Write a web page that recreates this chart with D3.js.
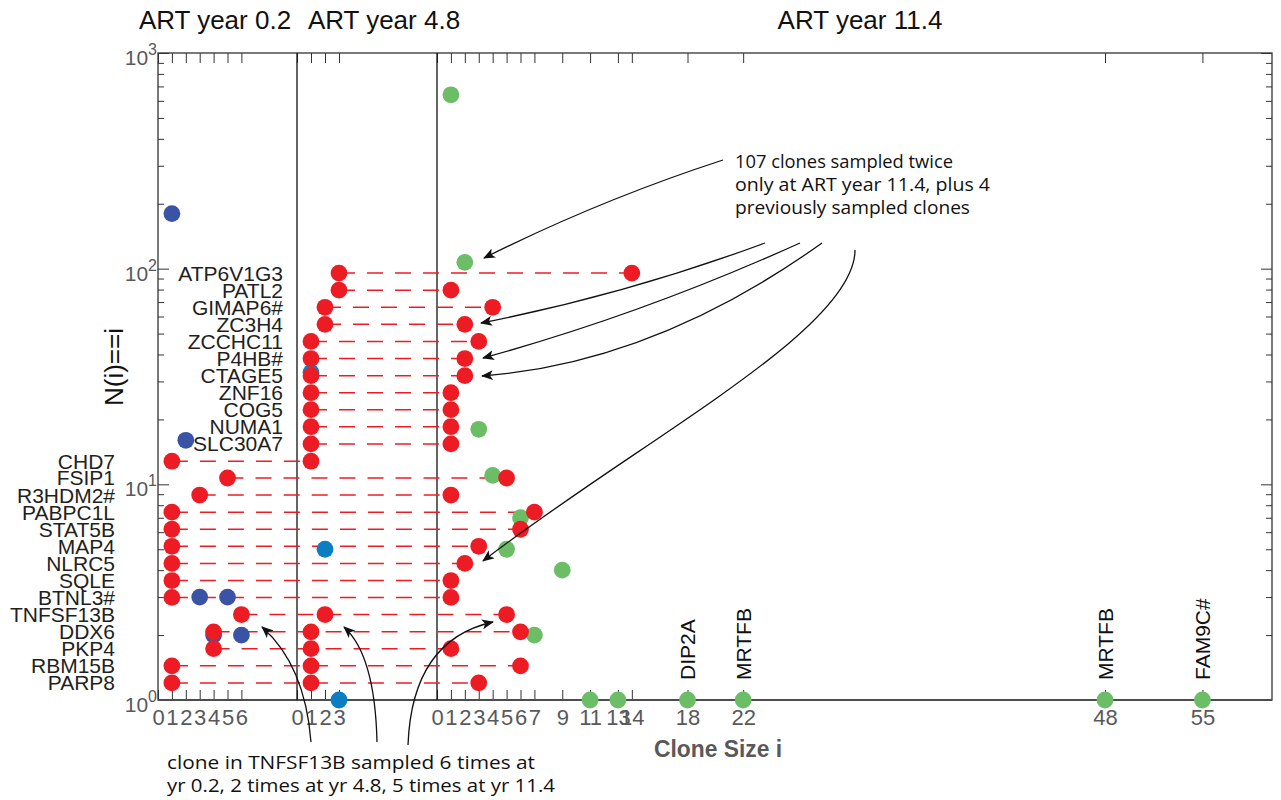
<!DOCTYPE html>
<html>
<head>
<meta charset="utf-8">
<script src="https://cdn.jsdelivr.net/npm/d3@7"></script>
<style>
  html, body { margin: 0; padding: 0; background: #fff; }
  svg { display: block; }
  text { font-family: "Liberation Sans", Arial, Helvetica, sans-serif; }
  .note { font-family: "Open Sans", "Noto Sans", sans-serif; fill: #111; }
</style>
</head>
<body>
<svg id="chart" width="1281" height="800"></svg>
<script>
// ---------------- data ----------------
const panelTitles = ["ART year 0.2", "ART year 4.8", "ART year 11.4"];

// N(i): number of clones of size i at each sampling time
const sizesYr02 = [1, 2, 3, 4, 5, 6];
const countsYr02 = [180, 16, 3, 2, 3, 2];
const sizesYr48 = [1, 2, 3];
const countsYr48 = [33, 5, 1];
const sizesYr114 = [1, 2, 3, 4, 5, 6, 7, 9, 11, 13, 18, 22, 48, 55];
const countsYr114 = [640, 107, 18, 11, 5, 7, 2, 4, 1, 1, 1, 1, 1, 1];

// clones found at more than one sampling time (row level on the N axis)
const cloneGenes = ["ATP6V1G3", "PATL2", "GIMAP6#", "ZC3H4", "ZCCHC11", "P4HB#", "CTAGE5",
  "ZNF16", "COG5", "NUMA1", "SLC30A7", "CHD7", "FSIP1", "R3HDM2#", "PABPC1L", "STAT5B",
  "MAP4", "NLRC5", "SQLE", "BTNL3#", "TNFSF13B", "DDX6", "PKP4", "RBM15B", "PARP8"];
const cloneRowLevel = [95.4, 79.5, 66.2, 55.2, 46.0, 38.3, 31.9, 26.6, 22.2, 18.5, 15.4,
  12.8, 10.7, 8.92, 7.43, 6.19, 5.16, 4.30, 3.58, 2.99, 2.49, 2.07, 1.73, 1.44, 1.20];
const cloneSizeYr02 = [null, null, null, null, null, null, null, null, null, null, null,
  1, 5, 3, 1, 1, 1, 1, 1, 1, 6, 4, 4, 1, 1];
const cloneSizeYr48 = [3, 3, 2, 2, 1, 1, 1, 1, 1, 1, 1,
  1, null, null, null, null, null, null, null, null, 2, 1, 1, 1, 1];
const cloneSizeYr114 = [14, 1, 4, 2, 3, 2, 2, 1, 1, 1, 1,
  null, 5, 1, 7, 6, 3, 2, 1, 1, 5, 6, 1, 6, 3];

// large clones named on the axis
const bigCloneSizes = [18, 22, 48, 55];
const bigCloneGenes = ["DIP2A", "MRTFB", "MRTFB", "FAM9C#"];

// axis ticks
const ticksYr02 = [0, 1, 2, 3, 4, 5, 6];
const ticksYr48 = [0, 1, 2, 3];
const ticksYr114 = [0, 1, 2, 3, 4, 5, 6, 7, 9, 11, 13, 14, 18, 22, 48, 55];
const yMajorTicks = [1, 10, 100, 1000];
const yExponents = ["0", "1", "2", "3"];
const yMinorTicks = [2, 3, 4, 5, 6, 7, 8, 9, 20, 30, 40, 50, 60, 70, 80, 90,
  200, 300, 400, 500, 600, 700, 800, 900];

// ---------------- layout ----------------
const svg = d3.select("#chart");
const L = 158, R = 1272, T = 53, B = 700;
const red = "#ed1c24", blue02 = "#3a53a4", blue48 = "#0b7dc1", green = "#6cbe66";
const grey = "#58595b";
const rDot = 8.4;

const y = d3.scaleLog().domain([1, 1000]).range([B, T]);
const panels = [
  { x: d3.scaleLinear().domain([0, 10]).range([L, 297]), ticks: ticksYr02, title: panelTitles[0], tx: 215 },
  { x: d3.scaleLinear().domain([0, 10]).range([297, 437]), ticks: ticksYr48, title: panelTitles[1], tx: 384 },
  { x: d3.scaleLinear().domain([0, 60]).range([437, R]), ticks: ticksYr114, title: panelTitles[2], tx: 860 }
];

// panel titles
svg.selectAll("text.title").data(panels).join("text")
  .attr("class", "title")
  .attr("x", d => d.tx).attr("y", 29)
  .attr("text-anchor", "middle")
  .attr("font-size", 26).attr("fill", "#111")
  .text(d => d.title);

// bottom / top ticks per panel
panels.forEach(p => {
  const gb = svg.append("g").attr("transform", `translate(0,${B})`)
    .call(d3.axisBottom(p.x).tickValues(p.ticks).tickSizeInner(-10).tickSizeOuter(0)
      .tickPadding(9).tickFormat(d3.format("d")));
  gb.select(".domain").remove();
  gb.selectAll(".tick line").attr("stroke", "#333").attr("stroke-width", 1);
  gb.selectAll(".tick text").attr("font-size", 22).attr("fill", grey)
    .attr("font-family", "Liberation Sans, Arial, sans-serif");

  const gt = svg.append("g").attr("transform", `translate(0,${T})`)
    .call(d3.axisTop(p.x).tickValues(p.ticks).tickSizeInner(-10).tickSizeOuter(0).tickFormat(""));
  gt.select(".domain").remove();
  gt.selectAll(".tick line").attr("stroke", "#333").attr("stroke-width", 1);
});

// left / right log ticks
function yTicks(axisFn, x, values, len) {
  const g = svg.append("g").attr("transform", `translate(${x},0)`)
    .call(axisFn(y).tickValues(values).tickSizeInner(-len).tickSizeOuter(0).tickFormat(""));
  g.select(".domain").remove();
  g.selectAll(".tick line").attr("stroke", "#333").attr("stroke-width", 1);
}
yTicks(d3.axisLeft, L, yMajorTicks, 11);
yTicks(d3.axisLeft, L, yMinorTicks, 6);
yTicks(d3.axisRight, R, yMajorTicks, 11);
yTicks(d3.axisRight, R, yMinorTicks, 6);

// y tick labels 10^k
const yl = svg.selectAll("text.ylab").data(yMajorTicks).join("text")
  .attr("class", "ylab")
  .attr("x", 157).attr("y", d => y(d) + 12)
  .attr("text-anchor", "end").attr("font-size", 21).attr("fill", grey);
yl.append("tspan").text("10");
yl.append("tspan").attr("font-size", 16).attr("dy", -10).text((d, i) => yExponents[i]);

// frame and panel dividers
svg.append("rect").attr("x", L).attr("y", T).attr("width", R - L).attr("height", B - T)
  .attr("fill", "none").attr("stroke", "#333").attr("stroke-width", 1.3);
svg.append("line").attr("x1", L).attr("x2", R).attr("y1", B).attr("y2", B)
  .attr("stroke", "#4d4d4f").attr("stroke-width", 1.8);
[panels[1].x(0), panels[2].x(0)].forEach(xv => {
  svg.append("line").attr("x1", xv).attr("x2", xv).attr("y1", T).attr("y2", B)
    .attr("stroke", "#111").attr("stroke-width", 1.3);
});

// axis titles
svg.append("text")
  .attr("transform", "translate(123,367) rotate(-90)")
  .attr("text-anchor", "middle").attr("font-size", 26).attr("fill", "#111")
  .text("N(i)==i");
svg.append("text")
  .attr("x", 654).attr("y", 757)
  .attr("font-size", 24).attr("font-weight", "bold").attr("fill", grey)
  .attr("textLength", 128).attr("lengthAdjust", "spacingAndGlyphs")
  .text("Clone Size i");

// ---- clones shared between sampling times ----
const sizeCols = [cloneSizeYr02, cloneSizeYr48, cloneSizeYr114];
const clones = cloneGenes.map((g, k) => {
  const pts = [];
  sizeCols.forEach((col, pi) => {
    if (col[k] != null) pts.push({ x: panels[pi].x(col[k]), y: y(cloneRowLevel[k]), panel: pi });
  });
  return { gene: g, level: cloneRowLevel[k], pts };
});

// dashed links
svg.append("g").selectAll("line").data(clones).join("line")
  .attr("x1", d => d.pts[0].x).attr("x2", d => d.pts[d.pts.length - 1].x)
  .attr("y1", d => y(d.level)).attr("y2", d => y(d.level))
  .attr("stroke", red).attr("stroke-width", 1.5).attr("stroke-dasharray", "16,12");

// N(i) distributions
function dots(sizes, counts, scale, color) {
  svg.append("g").selectAll("circle").data(sizes).join("circle")
    .attr("cx", d => scale(d)).attr("cy", (d, i) => y(counts[i]))
    .attr("r", rDot).attr("fill", color);
}
dots(sizesYr02, countsYr02, panels[0].x, blue02);
dots(sizesYr48, countsYr48, panels[1].x, blue48);
dots(sizesYr114, countsYr114, panels[2].x, green);

// shared clone dots
svg.append("g").selectAll("circle").data(clones.flatMap(c => c.pts)).join("circle")
  .attr("cx", d => d.x).attr("cy", d => d.y).attr("r", rDot).attr("fill", red);

// gene labels, right-aligned before the first panel of each clone
const labelEdge = [115, 283, 423];
svg.append("g").selectAll("text").data(clones).join("text")
  .attr("x", d => labelEdge[d.pts[0].panel])
  .attr("y", d => y(d.level) + 7.5)
  .attr("text-anchor", "end").attr("font-size", 21).attr("fill", "#231f20")
  .text(d => d.gene);

// names of the largest clones
svg.append("g").selectAll("text").data(bigCloneSizes).join("text")
  .attr("transform", d => `translate(${panels[2].x(d) + 7.5},680) rotate(-90)`)
  .attr("font-size", 21).attr("fill", "#111")
  .text((d, i) => bigCloneGenes[i]);

// ---- annotations ----
const defs = svg.append("defs");
defs.append("marker").attr("id", "head")
  .attr("viewBox", "0 0 12 10").attr("refX", 11).attr("refY", 5)
  .attr("markerWidth", 12).attr("markerHeight", 10)
  .attr("markerUnits", "userSpaceOnUse").attr("orient", "auto")
  .append("path").attr("d", "M0,0 L12,5 L0,10 L3,5 Z").attr("fill", "#111");

const arrows = [
  "M723,160 Q600,200 484,258",
  "M765,243 Q624,295 481,323",
  "M800,243 Q643,314 483,358",
  "M822,243 Q654,363 482,376",
  "M855,250 C855,330 640,440 483,561",
  "M311,742 Q305,665 262,627",
  "M377,742 Q375,655 344,627",
  "M408,745 Q412,640 493,622"
];
svg.append("g").selectAll("path").data(arrows).join("path")
  .attr("d", d => d).attr("fill", "none").attr("stroke", "#111").attr("stroke-width", 1.3)
  .attr("marker-end", "url(#head)");

const topNote = [
  { t: "107 clones sampled twice", y: 168, w: 218 },
  { t: "only at ART year 11.4, plus 4", y: 191, w: 255 },
  { t: "previously sampled clones", y: 214, w: 235 }
];
svg.append("g").selectAll("text").data(topNote).join("text")
  .attr("class", "note").attr("x", 735).attr("y", d => d.y)
  .attr("font-size", 18).attr("textLength", d => d.w).attr("lengthAdjust", "spacingAndGlyphs")
  .text(d => d.t);

const bottomNote = [
  { t: "clone in TNFSF13B sampled 6 times at", y: 769, w: 368 },
  { t: "yr 0.2, 2 times at yr 4.8, 5 times at yr 11.4", y: 792, w: 388 }
];
svg.append("g").selectAll("text").data(bottomNote).join("text")
  .attr("class", "note").attr("x", 167).attr("y", d => d.y)
  .attr("font-size", 19).attr("textLength", d => d.w).attr("lengthAdjust", "spacingAndGlyphs")
  .text(d => d.t);
</script>
</body>
</html>
